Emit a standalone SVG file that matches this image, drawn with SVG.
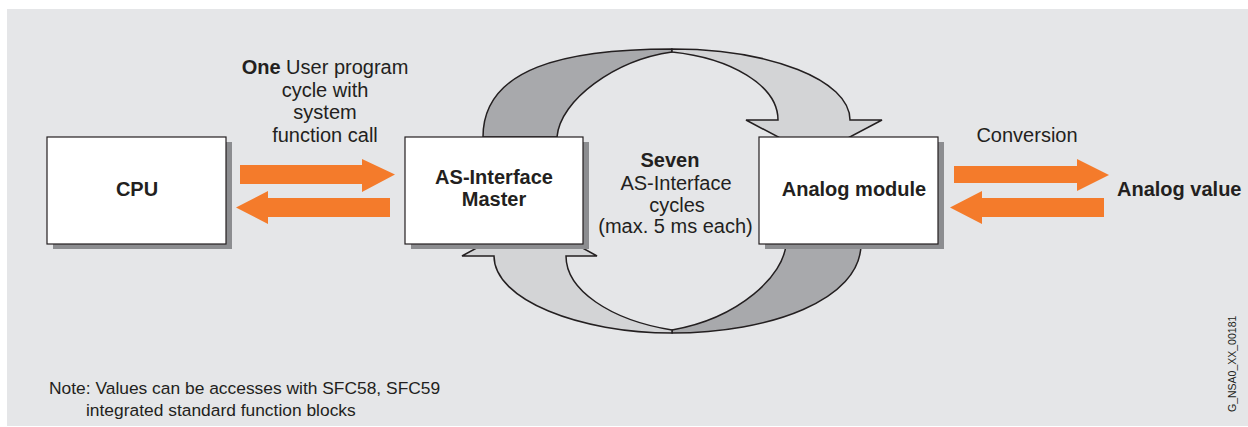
<svg xmlns="http://www.w3.org/2000/svg" width="1248" height="427" viewBox="0 0 1248 427">
  <style>
    .box { fill: #ffffff; stroke: #231f20; stroke-width: 1.2; }
    .shadow { fill: #8c8d90; }
    .flow { fill: #f47b2b; }
    .dark { fill: #a8a9ac; stroke: #231f20; stroke-width: 1.5; stroke-linejoin: round; }
    .light { fill: #d3d4d6; stroke: #231f20; stroke-width: 1.5; stroke-linejoin: miter; }
    text { font-family: "Liberation Sans", Arial, sans-serif; fill: #231f20; }
    .lbl { font-size: 20px; text-anchor: middle; }
    .b { font-weight: bold; }
  </style>

  <!-- background panel -->
  <rect x="0" y="0" width="1248" height="427" fill="#ffffff"/>
  <rect x="7" y="9" width="1241" height="417" fill="#e5e6e8"/>

  <!-- cycle arrows between master and analog module -->
  <g id="connectors">
    <g id="cycle-arcs">
      <!-- upper arc: master to analog module -->
      <path class="dark" d="M483,137 C483,68 565,49 672,49 L672,52 C615,60 560,100 557,137 Z"/>
      <path class="light" d="M672,49 C770,49 850,80 850,120 L882,120 L814,156 L746,120 L778,120 C778,85 730,58 672,52 Z"/>
      <!-- lower arc: analog module back to master -->
      <path class="dark" d="M861,244 C861,300 770,333 672,333 L672,330 C740,318 784,275 786,244 Z"/>
      <path class="light" d="M672,333 C580,333 494,300 494,256 L462,256 L530,219 L597,256 L566,256 C566,290 610,320 672,330 Z"/>
    </g>

    <!-- data exchange arrows -->
    <g id="flow-arrows">
      <polygon class="flow" points="240,165 362,165 362,159 395,174.5 362,192 362,184 240,184"/>
      <polygon class="flow" points="390,198 268,198 268,191 236,207.5 268,224 268,217 390,217"/>
      <polygon class="flow" points="954,166 1077,166 1077,159 1109,175 1077,191 1077,183 954,183"/>
      <polygon class="flow" points="1104,198 982,198 982,191 950,207.5 982,224 982,217 1104,217"/>
    </g>
  </g>

  <!-- nodes -->
  <g id="cpu">
    <rect class="shadow" x="53" y="142" width="179" height="107"/>
    <rect class="box" x="47" y="137" width="179" height="107"/>
    <text class="lbl b" x="137" y="196">CPU</text>
  </g>

  <g id="as-i-master">
    <rect class="shadow" x="411" y="142" width="178" height="107"/>
    <rect class="box" x="405" y="137" width="178" height="107"/>
    <text class="lbl b" x="494" y="184">AS-Interface</text>
    <text class="lbl b" x="494" y="206">Master</text>
  </g>

  <g id="analog-module">
    <rect class="shadow" x="765" y="142" width="179" height="107"/>
    <rect class="box" x="759" y="137" width="179" height="107"/>
    <text class="lbl b" x="854" y="196">Analog module</text>
  </g>

  <g id="analog-value">
    <text class="b" x="1117" y="196" font-size="20">Analog value</text>
  </g>

  <!-- labels -->
  <g id="labels">
    <text class="lbl" x="325" y="74"><tspan class="b">One</tspan> User program</text>
    <text class="lbl" x="325" y="96.5">cycle with</text>
    <text class="lbl" x="325" y="119">system</text>
    <text class="lbl" x="325" y="141.5">function call</text>

    <text class="lbl b" x="670" y="167">Seven</text>
    <text class="lbl" x="676" y="189.5">AS-Interface</text>
    <text class="lbl" x="677" y="211.5">cycles</text>
    <text class="lbl" x="675.5" y="233">(max. 5 ms each)</text>

    <text class="lbl" x="1027" y="142">Conversion</text>

    <text x="49" y="394" font-size="17.4">Note: Values can be accesses with SFC58, SFC59</text>
    <text x="86" y="416" font-size="17.4">integrated standard function blocks</text>

    <text x="0" y="0" font-size="10.5" transform="translate(1236,412) rotate(-90)">G_NSA0_XX_00181</text>
  </g>
</svg>
